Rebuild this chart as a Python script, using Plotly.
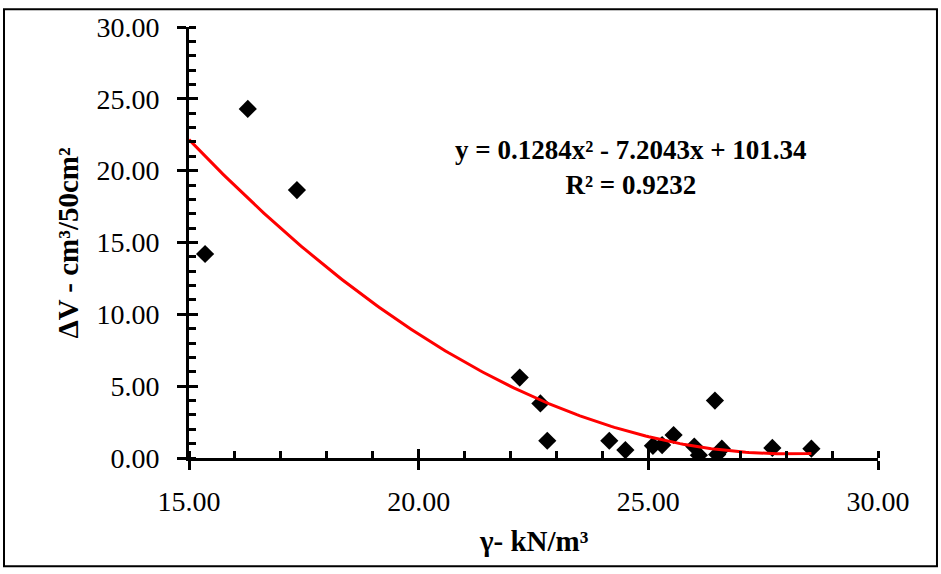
import numpy as np
import plotly.graph_objects as go

# Unit weight (kN/m3) and volume loss (cm3/50cm2) for each specimen
unit_weight = [15.35, 16.28, 17.35, 22.20, 22.65, 22.80, 24.15, 24.50, 25.10,
               25.30, 25.55, 26.00, 26.10, 26.45, 26.50, 26.60, 27.70, 28.55]
volume_loss = [14.20, 24.30, 18.65, 5.60, 3.80, 1.20, 1.20, 0.55, 0.85,
               0.90, 1.60, 0.80, 0.20, 4.00, 0.25, 0.65, 0.70, 0.65]

# Polynomial trendline coefficients (a x^2 + b x + c) and fit quality
trend_coef = [0.1284, -7.2043, 101.34]
r_squared = 0.9232
trend_start = 15.0

x_ticks = [15, 20, 25, 30]
y_ticks = [0, 5, 10, 15, 20, 25, 30]

xs = np.linspace(trend_start, max(unit_weight), 200)
ys = np.polyval(trend_coef, xs)

FONT = "Times New Roman, Liberation Serif, serif"

fig = go.Figure()
fig.add_trace(go.Scatter(
    x=xs, y=ys, mode="lines", xaxis="x2", yaxis="y2",
    line=dict(color="#ff0000", width=3), hoverinfo="skip", showlegend=False,
))
fig.add_trace(go.Scatter(
    x=unit_weight, y=volume_loss, mode="markers",
    marker=dict(symbol="diamond", size=14, color="black"), showlegend=False,
))

# Trendline equation
eq_line1 = f"y = {trend_coef[0]:.4f}x² - {abs(trend_coef[1]):.4f}x + {trend_coef[2]:.2f}"
eq_line2 = f"R² = {r_squared:.4f}"
fig.add_annotation(
    x=0.6415, y=0.673, xref="paper", yref="paper",
    text=f"<b>{eq_line1}</b><br><b>{eq_line2}</b>",
    showarrow=False, font=dict(family=FONT, size=27, color="black"),
    xanchor="center", yanchor="middle", align="center",
)

# Axis titles
fig.add_annotation(
    x=0.5, y=-0.192, xref="paper", yref="paper", text="<b>γ- kN/m³</b>",
    showarrow=False, font=dict(family=FONT, size=29, color="black"),
    xanchor="center", yanchor="middle",
)
fig.add_annotation(
    x=-0.177, y=0.5, xref="paper", yref="paper", text="<b>ΔV - cm³/50cm²</b>",
    showarrow=False, textangle=-90, font=dict(family=FONT, size=29, color="black"),
    xanchor="center", yanchor="middle",
)

axis_common = dict(
    showgrid=False, zeroline=False, showline=True, linecolor="black", linewidth=3,
    ticks="outside", ticklen=9, tickwidth=3, tickcolor="black",
    tickfont=dict(family=FONT, size=28, color="black"),
)
fig.update_layout(
    width=941, height=574,
    margin=dict(l=189, r=63, t=20, b=116),
    plot_bgcolor="white", paper_bgcolor="white",
    xaxis=dict(
        range=[15, 30], tickvals=x_ticks, ticktext=[f"{v:.2f}" for v in x_ticks],
        minor=dict(dtick=1, ticks="inside", ticklen=7, tickwidth=3, tickcolor="black"),
        ticklabelstandoff=7,
        **axis_common,
    ),
    yaxis=dict(
        range=[0, 30], tickvals=y_ticks, ticktext=[f"{v:.2f}" for v in y_ticks],
        minor=dict(dtick=1, ticks="inside", ticklen=7, tickwidth=3, tickcolor="black"),
        ticklabelstandoff=12,
        **axis_common,
    ),
    # inner halves of the crossing major ticks
    xaxis2=dict(range=[15, 30], overlaying="x", anchor="y", tickvals=x_ticks,
                ticks="inside", ticklen=9, tickwidth=3, tickcolor="black",
                showticklabels=False, showgrid=False, zeroline=False, showline=False),
    yaxis2=dict(range=[0, 30], overlaying="y", anchor="x", tickvals=y_ticks,
                ticks="inside", ticklen=9, tickwidth=3, tickcolor="black",
                showticklabels=False, showgrid=False, zeroline=False, showline=False),
    shapes=[dict(type="rect", xref="paper", yref="paper",
                 x0=-0.2685, x1=1.0856, y0=-0.2511, y1=1.0411,
                 line=dict(color="black", width=2), fillcolor="rgba(0,0,0,0)", layer="below")],
)

fig.write_html("out.html")
